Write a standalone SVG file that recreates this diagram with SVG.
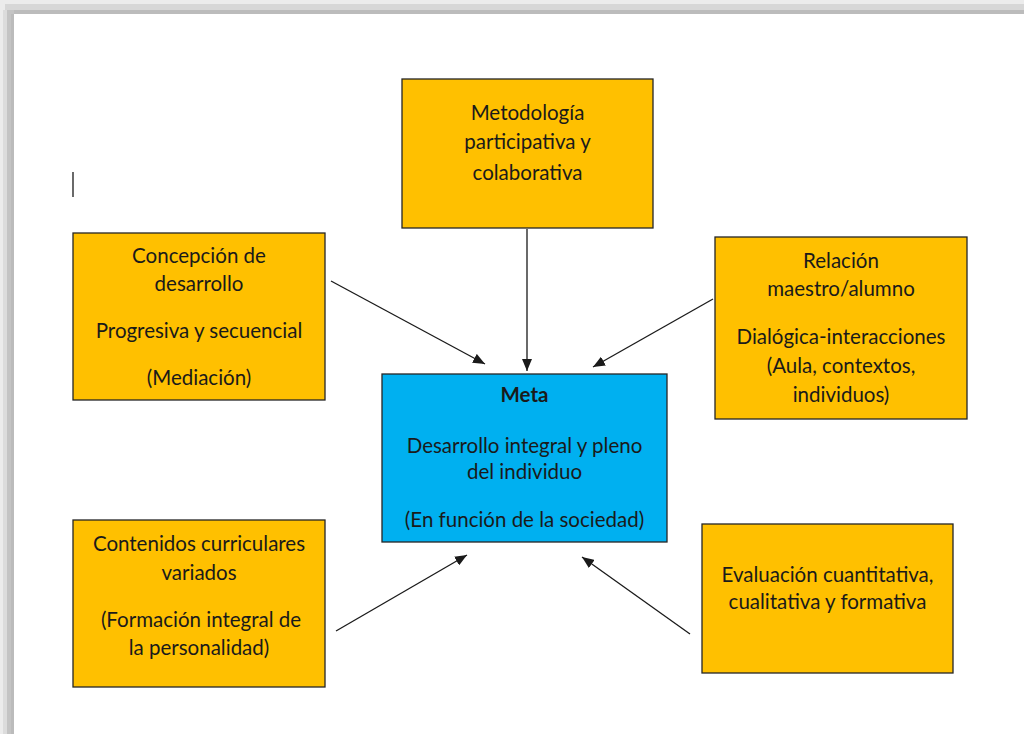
<svg xmlns="http://www.w3.org/2000/svg" width="1024" height="734" viewBox="0 0 1024 734">
<style>
.box{stroke:#262626;stroke-width:1.3}
.o{fill:#FFC000}
.b{fill:#00B0F0}
text{font-family:"Lato","Liberation Sans",sans-serif;font-size:20.5px;fill:#1a1a1a;text-anchor:middle}
.bold{font-weight:bold}
.c{stroke:#1a1a1a;stroke-width:1.3;fill:none;marker-end:url(#ah)}
</style>
<defs>
<marker id="ah" viewBox="0 0 12 10" refX="12" refY="5" markerWidth="12" markerHeight="10" markerUnits="userSpaceOnUse" orient="auto">
<path d="M0,0 L12,5 L0,10 z" fill="#1a1a1a"/>
</marker>
</defs>
<rect x="0" y="0" width="1024" height="734" fill="#ffffff"/>
<g id="frame">
<rect x="0" y="0" width="1024" height="4" fill="#ececec"/>
<rect x="0" y="4" width="1024" height="6" fill="#d7d7d7"/>
<rect x="5" y="10" width="1019" height="4" fill="#bcbcbc"/>
<rect x="0" y="4" width="5" height="730" fill="#ececec"/>
<rect x="3" y="10" width="4" height="724" fill="#dcdcdc"/>
<rect x="7" y="10" width="7" height="724" fill="#c4c4c4"/>
<rect x="11" y="14" width="3" height="720" fill="#bbbbbb"/>
</g>
<line x1="73" y1="172" x2="73" y2="197" stroke="#1a1a1a" stroke-width="1.3"/>
<g id="connectors">
<line class="c" x1="527" y1="229" x2="527" y2="371"/>
<line class="c" x1="331" y1="281" x2="485" y2="364"/>
<line class="c" x1="713" y1="299" x2="593" y2="367"/>
<line class="c" x1="336" y1="631" x2="467" y2="555"/>
<line class="c" x1="690" y1="634" x2="582" y2="557"/>
</g>
<g id="metodologia">
<rect class="box o" x="402" y="79" width="251" height="149"/>
<text x="527.5" y="120">Metodología</text>
<text x="527.5" y="149">participativa y</text>
<text x="527.5" y="180">colaborativa</text>
</g>
<g id="concepcion">
<rect class="box o" x="73" y="233" width="252" height="167"/>
<text x="199" y="263">Concepción de</text>
<text x="199" y="291">desarrollo</text>
<text x="199" y="338">Progresiva y secuencial</text>
<text x="199" y="385">(Mediación)</text>
</g>
<g id="relacion">
<rect class="box o" x="715" y="237" width="252" height="182"/>
<text x="841" y="268">Relación</text>
<text x="841" y="296">maestro/alumno</text>
<text x="841" y="344">Dialógica-interacciones</text>
<text x="841" y="373">(Aula, contextos,</text>
<text x="841" y="402">individuos)</text>
</g>
<g id="meta">
<rect class="box b" x="382" y="374" width="285" height="168"/>
<text class="bold" x="524.5" y="402">Meta</text>
<text x="524.5" y="453">Desarrollo integral y pleno</text>
<text x="524.5" y="479">del individuo</text>
<text x="524.5" y="527">(En función de la sociedad)</text>
</g>
<g id="contenidos">
<rect class="box o" x="73" y="520" width="252" height="167"/>
<text x="199" y="551">Contenidos curriculares</text>
<text x="199" y="580">variados</text>
<text x="201" y="627">(Formación integral de</text>
<text x="199" y="655">la personalidad)</text>
</g>
<g id="evaluacion">
<rect class="box o" x="702" y="524" width="251" height="149"/>
<text x="827.5" y="582">Evaluación cuantitativa,</text>
<text x="827.5" y="609">cualitativa y formativa</text>
</g>
</svg>
